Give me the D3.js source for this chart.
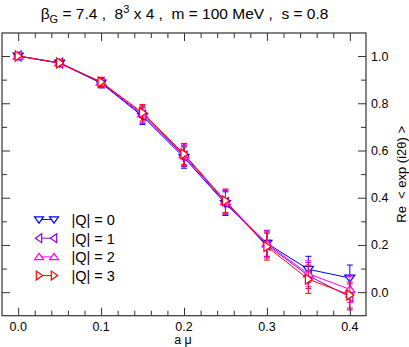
<!DOCTYPE html>
<html><head><meta charset="utf-8">
<script src="https://cdn.jsdelivr.net/npm/d3@7"></script>
<style>body{margin:0;background:#fff}svg{display:block;font-family:"Liberation Sans",Arial,sans-serif}text{white-space:pre}</style>
</head><body><svg id="c" width="409" height="347"></svg>
<script>
const amu = [0, 0.05, 0.1, 0.15, 0.2, 0.25, 0.3, 0.35, 0.4];
const q0 = [1.0, 0.970, 0.885, 0.745, 0.570, 0.375, 0.207, 0.097, 0.060];
const q1 = [1.0, 0.970, 0.887, 0.750, 0.577, 0.380, 0.200, 0.070, -0.020];
const q2 = [1.0, 0.971, 0.889, 0.755, 0.582, 0.383, 0.205, 0.078, 0.012];
const q3 = [1.0, 0.971, 0.890, 0.760, 0.585, 0.387, 0.193, 0.055, -0.012];
const err0 = [0.003, 0.008, 0.020, 0.035, 0.045, 0.050, 0.055, 0.055, 0.055];
const err1 = [0.003, 0.008, 0.020, 0.035, 0.045, 0.050, 0.055, 0.055, 0.055];
const err2 = [0.003, 0.008, 0.020, 0.035, 0.045, 0.050, 0.055, 0.055, 0.055];
const err3 = [0.003, 0.008, 0.020, 0.035, 0.045, 0.050, 0.057, 0.060, 0.055];
const seriesNames = ["|Q| = 0", "|Q| = 1", "|Q| = 2", "|Q| = 3"];
const xTicks = [0.0, 0.1, 0.2, 0.3, 0.4];
const yTicks = [0.0, 0.2, 0.4, 0.6, 0.8, 1.0];

const colors = ["#0000ff", "#9400d3", "#ff00ff", "#ff0000"];
const shapes = ["down", "left", "up", "right"];
const series = [q0, q1, q2, q3].map((v, i) => ({name: seriesNames[i], vals: v, errs: [err0, err1, err2, err3][i], color: colors[i], shape: shapes[i]}));

const svg = d3.select("#c");
const L = 2, R = 366, T = 33, B = 315.7;
const x = d3.scaleLinear().domain([-0.0195, 0.4195]).range([L, R]);
const y = d3.scaleLinear().domain([-0.0995, 1.0975]).range([B, T]);

function tri(shape, s) {
  const a = s, h = s;
  let pts;
  if (shape === "down") pts = [[-a, -h*0.6], [a, -h*0.6], [0, h*0.8]];
  else if (shape === "up") pts = [[-a, h*0.6], [a, h*0.6], [0, -h*0.8]];
  else if (shape === "left") pts = [[h*0.6, -a], [h*0.6, a], [-h*0.8, 0]];
  else pts = [[-h*0.6, -a], [-h*0.6, a], [h*0.8, 0]];
  return "M" + pts.map(p => p.join(",")).join("L") + "Z";
}

// frame
svg.append("rect").attr("x", L).attr("y", T).attr("width", R - L).attr("height", B - T)
  .attr("fill", "none").attr("stroke", "#333").attr("stroke-width", 1.2);

// axes (ticks inward)
const isMajX = d => Math.abs(d*10 - Math.round(d*10)) < 1e-6;
const gB = svg.append("g").attr("transform", `translate(0,${B})`);
gB.call(d3.axisBottom(x).tickValues(d3.range(0, 0.42, 0.02)).tickSize(-5).tickFormat(""));
gB.call(g => g.selectAll(".tick line").filter(isMajX).attr("y2", -8));
const gT = svg.append("g").attr("transform", `translate(0,${T})`);
gT.call(d3.axisTop(x).tickValues(d3.range(0, 0.42, 0.02)).tickSize(-5).tickFormat(""));
gT.call(g => g.selectAll(".tick line").filter(isMajX).attr("y2", 8));
const gL = svg.append("g").attr("transform", `translate(${L},0)`);
gL.call(d3.axisLeft(y).tickValues(d3.range(-0.0, 1.05, 0.1)).tickSize(-5).tickFormat(""));
gL.call(g => g.selectAll(".tick line").filter(d => Math.round(d*10) % 2 === 0).attr("x2", 8));
const gR = svg.append("g").attr("transform", `translate(${R},0)`);
gR.call(d3.axisRight(y).tickValues(d3.range(-0.0, 1.05, 0.1)).tickSize(-5).tickFormat(""));
gR.call(g => g.selectAll(".tick line").filter(d => Math.round(d*10) % 2 === 0).attr("x2", -8));
svg.selectAll(".domain").remove();
svg.selectAll(".tick line").attr("stroke", "#333");

// tick labels
svg.selectAll(".xl").data(xTicks).join("text").attr("x", d => x(d)).attr("y", 330.5)
  .attr("text-anchor", "middle").attr("font-size", 12.5).text(d => d.toFixed(1));
svg.selectAll(".yl").data(yTicks).join("text").attr("x", 371).attr("y", d => y(d) + 4.5)
  .attr("font-size", 12.5).text(d => d.toFixed(1));

// axis titles
svg.append("text").attr("x", 183).attr("y", 344).attr("text-anchor", "middle").attr("font-size", 12.5).text("a μ");
svg.append("text").attr("transform", `translate(406,${(T + B) / 2}) rotate(-90)`).attr("text-anchor", "middle")
  .attr("font-size", 13).text("Re  < exp (i2θ) >");

// title
const t = svg.append("text").attr("x", 184.5).attr("y", 19).attr("text-anchor", "middle").attr("font-size", 15.5);
t.append("tspan").text("β");
t.append("tspan").attr("font-size", 11).attr("dy", 4).text("G");
t.append("tspan").attr("dy", -4).text(" = 7.4 ,  8");
t.append("tspan").attr("font-size", 11).attr("dy", -6).text("3");
t.append("tspan").attr("dy", 6).text(" x 4 ,  m = 100 MeV ,  s = 0.8");

// data
const line = d3.line().x((d, i) => x(amu[i])).y(d => y(d));
series.forEach(s => {
  const g = svg.append("g");
  g.append("path").attr("d", line(s.vals)).attr("fill", "none").attr("stroke", s.color).attr("stroke-width", 1);
  s.vals.forEach((v, i) => {
    const cx = x(amu[i]), e = s.errs[i];
    g.append("line").attr("x1", cx).attr("x2", cx).attr("y1", y(v - e)).attr("y2", y(v + e)).attr("stroke", s.color);
    [v - e, v + e].forEach(w => g.append("line").attr("x1", cx - 3).attr("x2", cx + 3).attr("y1", y(w)).attr("y2", y(w)).attr("stroke", s.color));
    g.append("path").attr("transform", `translate(${cx},${y(v)})`).attr("d", tri(s.shape, 5))
      .attr("fill", "#fff").attr("stroke", s.color).attr("stroke-width", 1.2);
  });
});

// legend
series.forEach((s, i) => {
  const ly = 219.5 + i * 18.7;
  const g = svg.append("g");
  g.append("line").attr("x1", 39).attr("x2", 54).attr("y1", ly).attr("y2", ly).attr("stroke", s.color);
  [39, 54].forEach(cx => g.append("path").attr("transform", `translate(${cx},${ly})`).attr("d", tri(s.shape, 4.5))
    .attr("fill", "#fff").attr("stroke", s.color).attr("stroke-width", 1.2));
  g.append("text").attr("x", 71.5).attr("y", ly + 5.5).attr("font-size", 14.5).text(s.name);
});
</script></body></html>
